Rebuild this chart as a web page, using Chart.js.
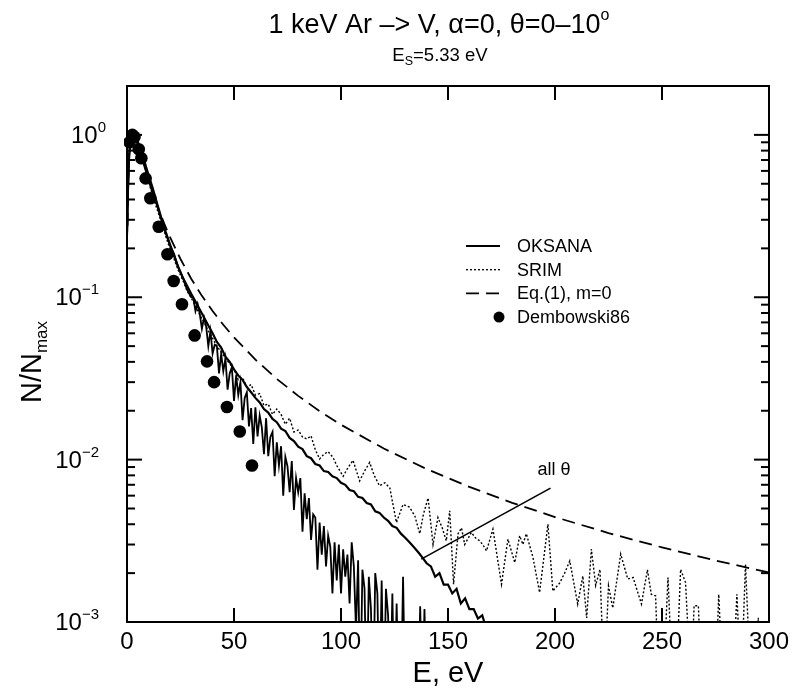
<!DOCTYPE html>
<html><head><meta charset="utf-8">
<script src="https://cdn.jsdelivr.net/npm/chart.js@4.4.0/dist/chart.umd.min.js"></script>
<style>html,body{margin:0;padding:0;background:#fff}canvas{display:block}</style>
</head><body>
<canvas id="c" width="802" height="690"></canvas>
<script>
const FONT = '"Liberation Sans", Arial, Helvetica, sans-serif';

// OKSANA, theta = 0-10 deg (noisy lower solid curve)
const oksana10E = [0,0.5,1,1.5,2,3,4,5,6,7,8,9,10,12,14,16,18,20,22,24,26,28,30,
 31,32,33,34,35,36,37,38,39,40,41,42,43,44,45,46,47,48,49,50,51,52,53,54,55,56,57,58,59,60,
 61,62,63,64,65,66,67,68,69,70,71,72,73,74,75,76,77,78,79,80,81,82,83,84,85,86,87,88,89,90,
 91,92,93,94,95,96,97,98,99,100,101,102,103,104,105,106,107,108,109,110,111,112,113,114,115,116,117,118,119,120,
 121,122,123,124,125,126,127,128,129,130,131,136,137,138,139,140];
const oksana10N = [0.22,0.45,0.72,0.88,0.96,1.0,0.97,0.9,0.83,0.75,0.68,0.6,0.54,0.44,0.37,0.3,0.25,0.21,0.185,0.152,0.133,0.112,0.1,
 0.099,0.082,0.091,0.079,0.064,0.075,0.066,0.050,0.062,0.045,
 0.051,0.050,0.034,0.045,0.035,0.042,0.027,0.034,0.037,0.023,
 0.033,0.025,0.030,0.0175,0.024,0.026,0.016,0.0208,0.0125,0.021,
 0.0139,0.0187,0.0158,0.0108,0.018,0.0105,0.0138,0.0148,0.0079,0.0128,
 0.0092,0.0121,0.0060,0.0104,0.0091,0.0063,0.0098,0.0049,0.0077,0.0063,
 0.0077,0.0036,0.0062,0.0043,0.0058,0.0032,0.0046,0.0044,0.0021,0.0041,
 0.0026,0.0039,0.0022,0.0034,0.0029,0.0015,0.0031,0.0018,0.0030,0.0015,
 0.0028,0.0019,0.0026,0.0013,0.0031,0.0022,0.0009,0.0024,0.0003,0.0021,
 0.0016,0.0003,0.0019,0.0012,0.0003,0.0020,0.0015,0.0003,0.0018,0.0003,
 0.0016,0.0011,0.0003,0.0015,0.0003,0.0013,0.0003,0.0003,0.0019,0.0003,
 0.0003,0.0003,0.00125,0.0003,0.0012,0.0003];

// OKSANA, all theta (middle solid curve)
const oksanaAllE = [0,0.5,1,1.5,2,3,4,5,6,7,8,9,10,12,14,16,18,20,22,24,26,28,30,
 32,34,36,38,40,42,44,46,48,50,52,54,56,58,60,62,64,66,68,70,72,74,76,78,80,82,84,86,88,90,
 92,94,96,98,100,102,104,106,108,110,112,114,116,118,120,122,124,126,128,130,
 132,134,136,138,140,142,144,146,148,150,152,154,156,158,160,162,164,166,168,170];
const oksanaAllN = [0.25,0.5,0.75,0.9,0.97,1.0,0.97,0.91,0.84,0.77,0.7,0.63,0.57,0.47,0.38,0.31,0.255,0.213,0.18,0.153,0.133,0.118,0.105,
 0.094,0.084,0.075,0.067,0.060,0.053,0.049,0.043,0.040,0.036,
 0.033,0.031,0.028,0.026,0.024,0.0225,0.0205,0.0195,0.0178,0.0170,
 0.0155,0.0150,0.0136,0.0130,0.0120,0.0116,0.0105,0.0102,0.0094,0.0092,
 0.0085,0.0084,0.0079,0.0077,0.0072,0.0070,0.0065,0.0064,0.0059,0.0058,
 0.0054,0.0053,0.0048,0.0047,0.0044,0.0042,0.0039,0.0038,0.0035,0.0033,
 0.0031,0.0029,0.0027,0.0025,0.0023,0.0022,0.0019,0.0020,0.0017,0.0017,
 0.0015,0.0016,0.0013,0.0014,0.0012,0.0012,0.00105,0.0011,0.0009,0.0003];

// SRIM (dotted)
const srimE = [0,1,2,3,4,5,6,8,10,12,14,16,18,20,22,24,26,28,30,32,34,36,38,40,42,44,46,48,50,52,54,56,58,60,
 62,64,66,68,70,72,74,76,78,80,82,84,86,88,90,92,94,96.3,98,101,103,105.6,108.7,111,113.4,115.5,118,120.5,122.8,
 125.9,129,132,134.5,136.8,138.5,140.7,143,145.3,147.3,149.2,150.8,152.6,154.7,156.3,157.8,160.9,162.8,164.8,166.2,
 168,171,175,178,181.2,183.5,185,186.6,189.7,192.8,196.7,199,202.2,204.5,206.9,210.6,213,214.8,217,219,221,223,225,
 227,230.7,234,236.5,240.4,243.2,245,247,248.5,250.5,252.8,255,256.5,258.7,261,263.5,265,267,268.5,275,276.5,278.5,
 283,285,287,289,291.5,294,295,296,300];
const srimN = [0.3,0.78,0.95,1.0,0.95,0.88,0.8,0.65,0.52,0.42,0.35,0.29,0.24,0.2,0.172,0.146,0.128,0.11,0.099,0.088,0.078,0.07,0.062,0.056,0.05,0.046,0.042,0.039,0.036,0.031,0.032,0.028,0.029,0.025,
 0.0255,0.0215,0.022,0.019,0.0205,0.019,0.0165,0.018,0.0148,0.0152,0.0138,0.0134,0.0140,0.0115,0.0101,0.0108,0.0112,0.0103,0.0092,0.0079,0.0088,0.0099,0.0074,0.0085,0.0096,0.0080,0.0069,0.0072,0.0067,
 0.0041,0.0053,0.0051,0.0045,0.0035,0.0046,0.0058,0.0030,0.0044,0.0038,0.00316,0.00484,0.00171,0.0035,0.0038,0.0030,0.00356,0.0033,0.00316,0.0030,
 0.00274,0.00373,0.00171,0.00324,0.00232,0.0034,0.0030,0.0035,0.0025,0.00152,0.0040,0.00155,0.00174,0.0020,0.00238,0.00129,0.00192,0.00106,0.00281,0.00168,0.00211,0.0004,0.00167,
 0.00122,0.00262,0.00184,0.00188,0.00129,0.0021,0.00148,0.00145,0.0004,0.0004,0.00188,0.0004,0.0004,0.00211,0.00175,0.0004,0.00126,0.00126,0.0004,0.0004,0.00148,0.0004,
 0.0004,0.00148,0.0004,0.00227,0.0004,0.0004,0.00106,0.0004,0.0004];

// Eq.(1), m=0 (dashed)
const eqE = [0.25,0.5,1,1.5,2,2.67,3,4,5,6,7,8,10,12,15,17.5,20,25,30,35,40,45,50,60,70,80,90,100,120,140,160,180,200,225,250,275,300];
const eqN = [0.276,0.484,0.756,0.903,0.974,1.0,0.995,0.944,0.870,0.791,0.716,0.648,0.532,0.442,0.342,0.282,0.236,0.172,0.130,0.102,0.0823,0.0677,0.0566,0.0413,0.0314,0.0247,0.0199,0.0164,0.0117,0.00875,0.00679,0.00542,0.00443,0.00353,0.00288,0.00239,0.00202];

// Dembowski86 (filled circles)
const dembE = [1.2,2.5,3.5,5.5,6.7,8.7,10.9,14.8,18.9,21.8,25.7,31.6,37.4,40.7,46.7,52.7,58.4];
const dembN = [0.90,1.0,0.97,0.816,0.718,0.54,0.407,0.272,0.184,0.126,0.0906,0.0582,0.0403,0.030,0.0211,0.0149,0.0092];

// "all theta" pointer (data coordinates)
const pointerE = [137.5,197.9];
const pointerN = [0.00244,0.00668];
const pointerLabelE = 199.5, pointerLabelN = 0.0080;

// axes
const xMin = 0, xMax = 300;
const yMin = 0.001, yMax = 2;
const xTickValues = [0,50,100,150,200,250,300];
const xTickLabels = ['0','50','100','150','200','250','300'];
const yDecades = [1,0.1,0.01,0.001];
const yDecadeExp = ['0','\u22121','\u22122','\u22123'];

const legendItems = [
 {label:'OKSANA', kind:'solid'},
 {label:'SRIM', kind:'dotted'},
 {label:'Eq.(1), m=0', kind:'dashed'},
 {label:'Dembowski86', kind:'dot'}
];

function pts(E,N){return E.map((e,i)=>({x:e,y:N[i]}));}

function richWidth(ctx, parts){let w=0;parts.forEach(p=>{ctx.font=p.size+'px '+FONT;w+=ctx.measureText(p.t).width;});return w;}
function drawRich(ctx, parts, x, y, align){
 const w=richWidth(ctx,parts);
 let cx = align==='center'? x-w/2 : (align==='right'? x-w : x);
 ctx.textAlign='left'; ctx.textBaseline='alphabetic';
 parts.forEach(p=>{ctx.font=p.size+'px '+FONT;ctx.fillText(p.t,cx,y+(p.dy||0));cx+=ctx.measureText(p.t).width;});
}
function seg(ctx,x1,y1,x2,y2){ctx.beginPath();ctx.moveTo(x1,y1);ctx.lineTo(x2,y2);ctx.stroke();}

const decor = {
 id:'decor',
 afterDraw(chart){
  const ctx=chart.ctx, a=chart.chartArea, xs=chart.scales.x, ys=chart.scales.y;
  ctx.save();
  ctx.fillStyle='#000'; ctx.strokeStyle='#000';
  ctx.lineWidth=2; ctx.setLineDash([]);
  ctx.strokeRect(a.left,a.top,a.right-a.left,a.bottom-a.top);
  xTickValues.forEach((v,i)=>{
   const px=xs.getPixelForValue(v);
   seg(ctx,px,a.bottom,px,a.bottom-14);
   seg(ctx,px,a.top,px,a.top+14);
   drawRich(ctx,[{t:xTickLabels[i],size:24}],px,a.bottom+27,'center');
  });
  yDecades.forEach((d,i)=>{
   for(let k=1;k<=9;k++){
    const v=d*k; if(v>yMax||v<yMin) continue;
    const py=ys.getPixelForValue(v);
    const len=(k===1)?15:8;
    seg(ctx,a.left,py,a.left+len,py);
    seg(ctx,a.right,py,a.right-len,py);
   }
   const py=ys.getPixelForValue(d);
   const right = a.left - (yDecadeExp[i]==='0'?21:28);
   drawRich(ctx,[{t:'10',size:24},{t:yDecadeExp[i],size:15,dy:-11}],right,py+8,'right');
  });
  const cx=(a.left+a.right)/2;
  drawRich(ctx,[{t:'1 keV Ar \u2013> V, \u03b1=0, \u03b8=0\u201310',size:27},{t:'o',size:16,dy:-13}],439,33,'center');
  drawRich(ctx,[{t:'E',size:18.5},{t:'S',size:12.5,dy:4},{t:'=5.33 eV',size:18.5}],440,61,'center');
  drawRich(ctx,[{t:'E, eV',size:29}],cx,682,'center');
  ctx.save();
  ctx.translate(41,403); ctx.rotate(-Math.PI/2);
  drawRich(ctx,[{t:'N/N',size:29},{t:'max',size:17,dy:6}],0,0,'left');
  ctx.restore();
  drawRich(ctx,[{t:'all \u03b8',size:18}],xs.getPixelForValue(pointerLabelE),ys.getPixelForValue(pointerLabelN),'center');
  const lx1=466, lx2=500, tx=517, ly0=246, dy=23.7;
  legendItems.forEach((it,i)=>{
   const y=ly0+i*dy;
   ctx.lineWidth=it.kind==='dotted'?1.3:1.8;
   if(it.kind==='solid'){ctx.setLineDash([]);seg(ctx,lx1,y,lx2,y);}
   else if(it.kind==='dotted'){ctx.setLineDash([2,2]);seg(ctx,lx1,y,lx2,y);}
   else if(it.kind==='dashed'){ctx.setLineDash([13,7]);seg(ctx,lx1,y,lx2,y);}
   else {ctx.setLineDash([]);ctx.beginPath();ctx.arc(lx2-1,y,5.5,0,Math.PI*2);ctx.fill();}
   ctx.setLineDash([]);
   ctx.font='18px '+FONT; ctx.textAlign='left'; ctx.textBaseline='middle';
   ctx.fillText(it.label,tx,y+1);
  });
  ctx.restore();
 }
};

new Chart(document.getElementById('c'),{
 type:'scatter',
 data:{datasets:[
  {label:'OKSANA \u03b8=0\u201310', data:pts(oksana10E,oksana10N), showLine:true, borderColor:'#000', borderWidth:1.8, pointRadius:0, tension:0},
  {label:'OKSANA all \u03b8', data:pts(oksanaAllE,oksanaAllN), showLine:true, borderColor:'#000', borderWidth:2.2, pointRadius:0, tension:0},
  {label:'SRIM', data:pts(srimE,srimN), showLine:true, borderColor:'#000', borderWidth:1.4, borderDash:[2,2], pointRadius:0, tension:0},
  {label:'Eq.(1), m=0', data:pts(eqE,eqN), showLine:true, borderColor:'#000', borderWidth:1.8, borderDash:[13,7], pointRadius:0, tension:0},
  {label:'Dembowski86', data:pts(dembE,dembN), showLine:false, pointRadius:6.3, pointBackgroundColor:'#000', pointBorderColor:'#000', pointBorderWidth:0, clip:3},
  {label:'pointer', data:pts(pointerE,pointerN), showLine:true, borderColor:'#000', borderWidth:1.6, pointRadius:0, tension:0}
 ]},
 options:{
  responsive:false, animation:false, devicePixelRatio:1,
  layout:{padding:{left:127,right:33,top:86,bottom:68}},
  plugins:{legend:{display:false},tooltip:{enabled:false},title:{display:false}},
  scales:{
   x:{type:'linear',min:xMin,max:xMax,display:false},
   y:{type:'logarithmic',min:yMin,max:yMax,display:false}
  }
 },
 plugins:[decor]
});
</script>
</body></html>
